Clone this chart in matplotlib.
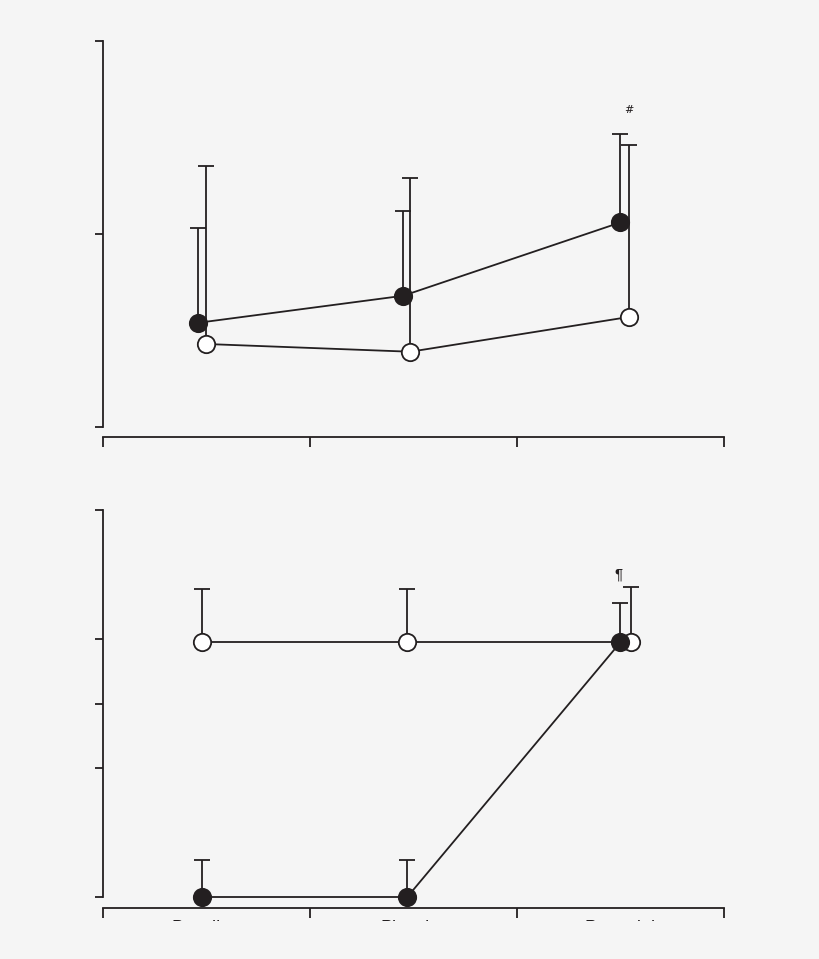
import numpy as np
import matplotlib
matplotlib.use('Agg')
import matplotlib.pyplot as plt
from matplotlib.patches import Rectangle

# conditions on the x axis
CATEGORIES = ["Baseline", "Placebo", "Post-trial"]

# top panel: means and upper SD, filled and open series
top_filled = [0.54, 0.68, 1.06]
top_filled_sd = [0.49, 0.44, 0.46]
top_open = [0.43, 0.39, 0.57]
top_open_sd = [0.92, 0.90, 0.89]

# bottom panel
bot_filled = [0.0, 0.0, 3.95]
bot_filled_sd = [0.58, 0.58, 0.61]
bot_open = [3.95, 3.95, 3.95]
bot_open_sd = [0.82, 0.83, 0.85]

INK = '#231f20'
BG = '#f5f5f5'
W, H = 820, 959


def draw_series(ax, x, y, sd, face):
    y = np.asarray(y)
    _, caps, _ = ax.errorbar(x, y, yerr=[np.zeros_like(y), sd], fmt='none',
                             ecolor=INK, elinewidth=1.3, capsize=6,
                             capthick=1.3, zorder=2, clip_on=False)
    # keep only the upper caps
    for c in caps:
        c.set_clip_on(False)
        if np.allclose(c.get_ydata(), y):
            c.set_visible(False)
    ax.plot(x, y, '-', color=INK, lw=1.3, zorder=3, clip_on=False)
    ax.plot(x, y, 'o', ms=12.5, mfc=face, mec=INK, mew=1.3,
            zorder=4, clip_on=False)


def style_axis(ax, ymax, yticks, offset):
    ax.set_facecolor(BG)
    ax.set_xlim(0, 3)
    ax.set_ylim(0, ymax)
    for s in ['top', 'right']:
        ax.spines[s].set_visible(False)
    for s in ['left', 'bottom']:
        ax.spines[s].set_color(INK)
        ax.spines[s].set_linewidth(1.3)
    ax.spines['bottom'].set_position(('outward', offset))
    ax.set_xticks([0, 1, 2, 3])
    ax.set_xticklabels([])
    ax.set_yticks(yticks)
    ax.set_yticklabels([])
    ax.tick_params(axis='x', direction='out', length=7.2, width=1.3, color=INK)
    ax.tick_params(axis='y', direction='out', length=6, width=1.3, color=INK)


fig = plt.figure(figsize=(W / 100, H / 100), dpi=100, facecolor=BG)
centers = np.arange(len(CATEGORIES)) + 0.5

# top panel
ax1 = fig.add_axes([103 / W, (H - 427) / H, 621 / W, 386 / H])
style_axis(ax1, 2, [0, 1, 2], 7.2)
draw_series(ax1, centers + np.array([0.0, -0.015, 0.04]), top_open, top_open_sd, 'white')
draw_series(ax1, centers + np.array([-0.04, -0.05, 0.0]), top_filled, top_filled_sd, INK)
ax1.text(2.54, 1.64, '#', ha='center', va='center', fontsize=8, color=INK,
         family='DejaVu Serif')

# bottom panel
ax2 = fig.add_axes([103 / W, (H - 897) / H, 621 / W, 387 / H])
style_axis(ax2, 6, [0, 2, 3, 4, 6], 7.9)
draw_series(ax2, centers + np.array([-0.02, -0.03, 0.05]), bot_open, bot_open_sd, 'white')
draw_series(ax2, centers + np.array([-0.02, -0.03, 0.0]), bot_filled, bot_filled_sd, INK)
ax2.text(2.49, 5.0, '¶', ha='center', va='center', fontsize=11, color=INK,
         family='Liberation Sans')
ax2.set_xticks(centers, minor=True)
ax2.set_xticklabels(CATEGORIES, minor=True, fontsize=13, color=INK,
                    family='Liberation Sans')
ax2.tick_params(axis='x', which='minor', length=0, pad=9)

# the reference is cut just below the top of the category labels
fig.add_artist(Rectangle((0, 0), 1, (H - 921) / H, transform=fig.transFigure,
                         facecolor=BG, edgecolor='none', zorder=10))

fig.savefig('out.png', dpi=100, facecolor=BG)
